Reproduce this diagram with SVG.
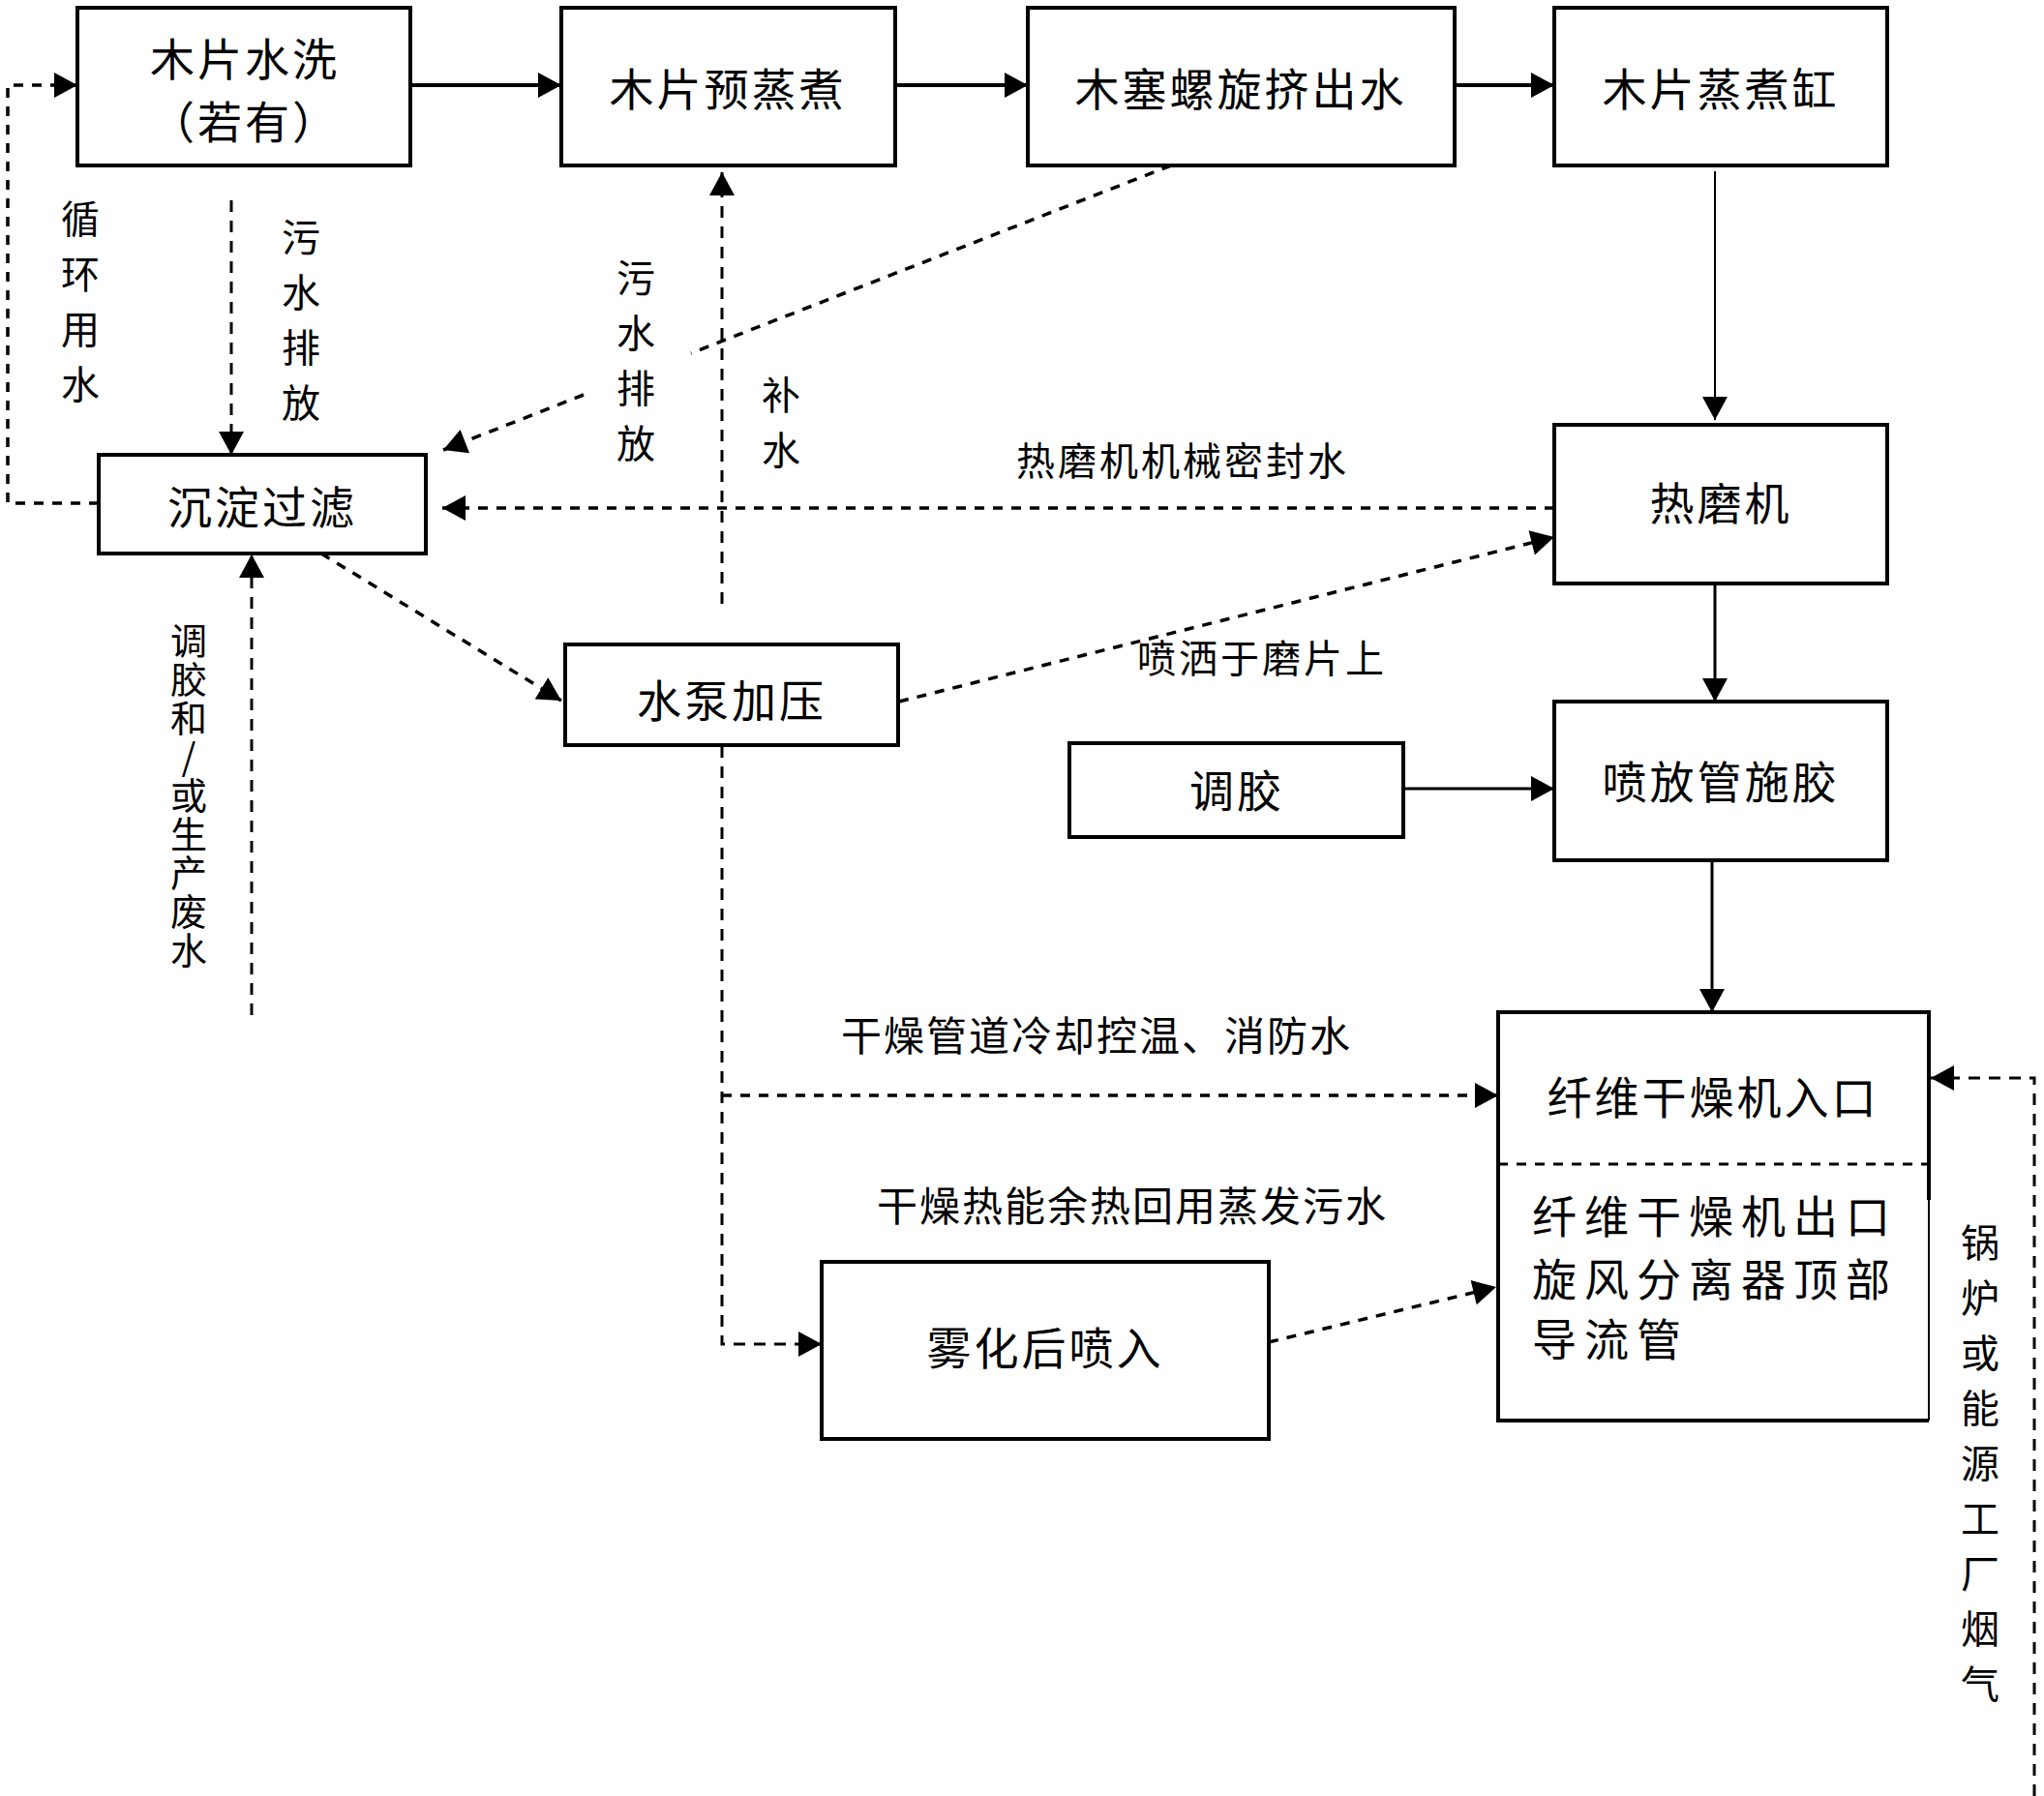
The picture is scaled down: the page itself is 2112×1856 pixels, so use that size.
<svg xmlns="http://www.w3.org/2000/svg" width="2112" height="1856" viewBox="0 0 2112 1856">
<style>
  .box { fill: #fff; stroke: #000; stroke-width: 4; }
  .t { font-family: "Noto Sans CJK SC", "Noto Sans", sans-serif; font-size: 46px; fill: #000; text-anchor: middle; letter-spacing: 3px; }
  .lbl { font-family: "Noto Sans CJK SC", "Noto Sans", sans-serif; font-size: 40px; fill: #000; text-anchor: middle; letter-spacing: 3px; }
  .lbl2 { font-family: "Noto Sans CJK SC", "Noto Sans", sans-serif; font-size: 42px; fill: #000; text-anchor: middle; letter-spacing: 2px; }
  .vl { font-family: "Noto Sans CJK SC", "Noto Sans", sans-serif; font-size: 40px; fill: #000; writing-mode: vertical-rl; text-orientation: upright; letter-spacing: 17px; }
  .vs { font-family: "Noto Sans CJK SC", "Noto Sans", sans-serif; font-size: 38px; fill: #000; writing-mode: vertical-rl; text-orientation: upright; letter-spacing: 2px; }
  .solid { fill: none; stroke: #000; stroke-width: 4; }
  .dash { fill: none; stroke: #000; stroke-width: 3; stroke-dasharray: 12 9; }
  .dot { fill: none; stroke: #000; stroke-width: 3.5; stroke-dasharray: 10 9; }
</style>
<defs>
  <marker id="ah" markerUnits="userSpaceOnUse" markerWidth="26" markerHeight="26" viewBox="0 0 24 26" refX="24" refY="13" orient="auto">
    <path d="M0,0 L24,13 L0,26 z" fill="#000"/>
  </marker>
</defs>
<rect width="2112" height="1856" fill="#fff"/>

<g id="connectors">
  <line class="solid" x1="424" y1="88" x2="580" y2="88" marker-end="url(#ah)"/>
  <line class="solid" x1="925" y1="88" x2="1062" y2="88" marker-end="url(#ah)"/>
  <line class="solid" x1="1503" y1="88" x2="1606" y2="88" marker-end="url(#ah)"/>
  <line class="solid" style="stroke-width:2" x1="1772" y1="177" x2="1772" y2="434" marker-end="url(#ah)"/>
  <line class="solid" style="stroke-width:3" x1="1772" y1="603" x2="1772" y2="725" marker-end="url(#ah)"/>
  <line class="solid" style="stroke-width:3" x1="1450" y1="815" x2="1606" y2="815" marker-end="url(#ah)"/>
  <line class="solid" style="stroke-width:3" x1="1769" y1="889" x2="1769" y2="1046" marker-end="url(#ah)"/>

  <polyline class="dot" points="102,520 8,520 8,88 80,88" marker-end="url(#ah)"/>
  <line class="dash" x1="239" y1="207" x2="239" y2="470" marker-end="url(#ah)"/>
  <line class="dot" x1="1210" y1="171" x2="714" y2="365"/>
  <line class="dot" x1="603" y1="408" x2="458" y2="465" marker-end="url(#ah)"/>
  <line class="dash" x1="746" y1="624" x2="746" y2="178" marker-end="url(#ah)"/>
  <line class="dot" x1="1606" y1="525" x2="457" y2="525" marker-end="url(#ah)"/>
  <line class="dot" x1="332" y1="572" x2="580" y2="724" marker-end="url(#ah)"/>
  <line class="dash" x1="260" y1="1049" x2="260" y2="573" marker-end="url(#ah)"/>
  <line class="dot" x1="929" y1="725" x2="1606" y2="555" marker-end="url(#ah)"/>
  <polyline class="dash" points="746,771 746,1389 849,1389" marker-end="url(#ah)"/>
  <line class="dot" x1="746" y1="1132" x2="1548" y2="1132" marker-end="url(#ah)"/>
  <line class="dot" x1="1311" y1="1387" x2="1546" y2="1330" marker-end="url(#ah)"/>
  <polyline class="dash" points="2102,1856 2102,1114 1995,1114" marker-end="url(#ah)"/>
</g>

<g id="n-wash">
  <rect class="box" x="80" y="8" width="344" height="163"/>
  <text class="t" x="253" y="78">木片水洗</text>
  <text class="t" x="253" y="143">（若有）</text>
</g>
<g id="n-presteam">
  <rect class="box" x="580" y="8" width="345" height="163"/>
  <text class="t" x="752" y="109">木片预蒸煮</text>
</g>
<g id="n-screw">
  <rect class="box" x="1062" y="8" width="441" height="163"/>
  <text class="t" x="1282" y="109">木塞螺旋挤出水</text>
</g>
<g id="n-cooker">
  <rect class="box" x="1606" y="8" width="344" height="163"/>
  <text class="t" x="1778" y="109">木片蒸煮缸</text>
</g>
<g id="n-settle">
  <rect class="box" x="102" y="470" width="338" height="102"/>
  <text class="t" x="271" y="541">沉淀过滤</text>
</g>
<g id="n-refiner">
  <rect class="box" x="1606" y="439" width="344" height="164"/>
  <text class="t" x="1778" y="537">热磨机</text>
</g>
<g id="n-pump">
  <rect class="box" x="584" y="666" width="344" height="104"/>
  <text class="t" x="756" y="741">水泵加压</text>
</g>
<g id="n-glue">
  <rect class="box" x="1105" y="768" width="345" height="97"/>
  <text class="t" x="1278" y="834">调胶</text>
</g>
<g id="n-blowline">
  <rect class="box" x="1606" y="725" width="344" height="164"/>
  <text class="t" x="1778" y="825">喷放管施胶</text>
</g>
<g id="n-atomize">
  <rect class="box" x="849" y="1304" width="462" height="183"/>
  <text class="t" x="1080" y="1410">雾化后喷入</text>
</g>
<g id="n-dryer">
  <rect x="1548" y="1046" width="445" height="422" fill="#fff" stroke="none"/>
  <path d="M1993,1240 L1993,1046 L1548,1046 L1548,1468 L1993,1468" fill="none" stroke="#000" stroke-width="4"/>
  <line x1="1993" y1="1240" x2="1993" y2="1468" stroke="#000" stroke-width="2"/>
  <line x1="1548" y1="1203" x2="1993" y2="1203" stroke="#000" stroke-width="3" stroke-dasharray="10 9"/>
  <text class="t" x="1770" y="1151">纤维干燥机入口</text>
  <text class="t" style="text-anchor:start;letter-spacing:8px" x="1583" y="1274">纤维干燥机出口</text>
  <text class="t" style="text-anchor:start;letter-spacing:8px" x="1583" y="1339">旋风分离器顶部</text>
  <text class="t" style="text-anchor:start;letter-spacing:8px" x="1583" y="1401">导流管</text>
</g>

<g id="labels">
  <text class="vl" x="83" y="206">循环用水</text>
  <text class="vl" x="311" y="225">污水排放</text>
  <text class="vl" x="657" y="267">污水排放</text>
  <text class="vl" x="807" y="388">补水</text>
  <text class="vs" x="195" y="643">调胶和/或生产废水</text>
  <text class="vl" x="2046" y="1264">锅炉或能源工厂烟气</text>
  <text class="lbl" x="1222" y="491">热磨机机械密封水</text>
  <text class="lbl" x="1304" y="695">喷洒于磨片上</text>
  <text class="lbl2" x="1133" y="1086">干燥管道冷却控温、消防水</text>
  <text class="lbl2" x="1170" y="1262">干燥热能余热回用蒸发污水</text>
</g>
</svg>
